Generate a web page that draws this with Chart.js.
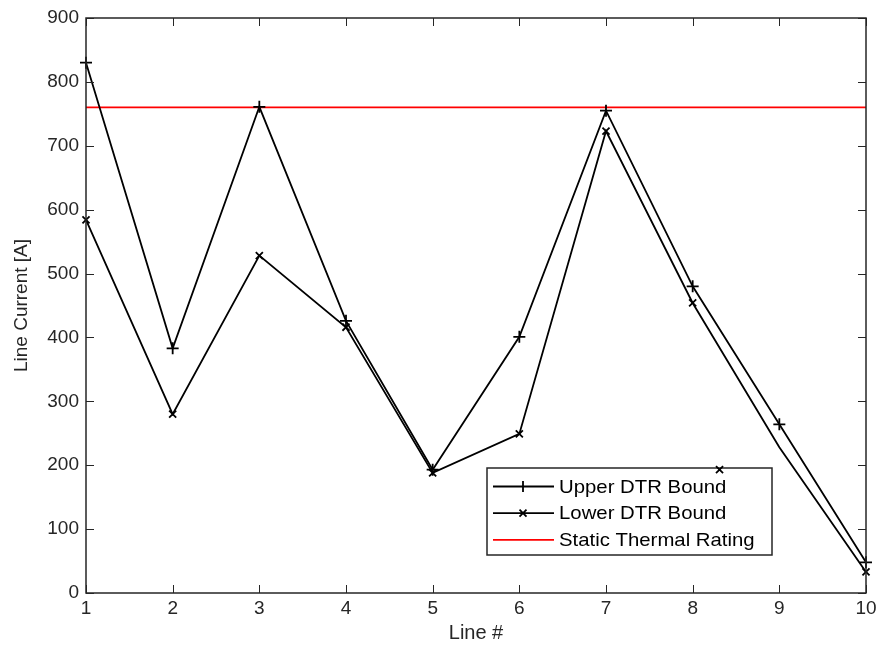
<!DOCTYPE html>
<html>
<head>
<meta charset="utf-8">
<title>Line Current</title>
<script src="https://cdn.jsdelivr.net/npm/chart.js@4.4.1/dist/chart.umd.min.js"></script>
<style>
  html, body { margin: 0; padding: 0; background: #fff; }
  #wrap { width: 878px; height: 658px; }
</style>
</head>
<body>
<div id="wrap"><canvas id="chart" width="878" height="658"></canvas></div>
<script>
// --- Data ---
const lineNumbers = [1, 2, 3, 4, 5, 6, 7, 8, 9, 10];
const upperBound = [830, 383, 761, 426, 193, 401, 755, 480, 264, 48];
const lowerBound = [584, 280, 528, 416, 188, 249, 723, 454, 228, 33];
const staticRating = 760;
// lone lower-bound marker sitting on the legend frame
const strayMarker = { x: 8.31, y: 193 };
const xTicks = [1, 2, 3, 4, 5, 6, 7, 8, 9, 10];
const yTicks = [0, 100, 200, 300, 400, 500, 600, 700, 800, 900];
const legendLabels = ['Upper DTR Bound', 'Lower DTR Bound', 'Static Thermal Rating'];

const FONT = 'Arial, "Liberation Sans", Helvetica, sans-serif';
const AXIS_COLOR = '#262626';
const TICK_LEN = 8;
const LINE_W = 1.8;

const toPoints = (ys) => lineNumbers.map((x, i) => ({ x, y: ys[i] }));

// --- Plugins ---

// box round the axes with inward ticks on all four sides
const axesBox = {
    id: 'axesBox',
    afterDatasetsDraw(chart) {
        const { ctx, chartArea: a, scales: { x, y } } = chart;
        ctx.save();
        ctx.strokeStyle = AXIS_COLOR;
        ctx.lineWidth = 1;
        ctx.beginPath();
        xTicks.forEach(v => {
            const px = Math.round(x.getPixelForValue(v)) + 0.5;
            ctx.moveTo(px, a.bottom); ctx.lineTo(px, a.bottom - TICK_LEN);
            ctx.moveTo(px, a.top); ctx.lineTo(px, a.top + TICK_LEN);
        });
        yTicks.forEach(v => {
            const py = Math.round(y.getPixelForValue(v)) + 0.5;
            ctx.moveTo(a.left, py); ctx.lineTo(a.left + TICK_LEN, py);
            ctx.moveTo(a.right, py); ctx.lineTo(a.right - TICK_LEN, py);
        });
        ctx.stroke();
        ctx.lineWidth = 1.5;
        ctx.strokeRect(a.left, a.top, a.right - a.left, a.bottom - a.top);
        ctx.restore();
    }
};

// legend box, drawn before the datasets so marks can sit on top of it
const boxLegend = {
    id: 'boxLegend',
    beforeDatasetsDraw(chart) {
        const { ctx } = chart;
        const left = 487, top = 468, w = 285, h = 87;
        const styles = [
            { color: '#000', marker: 'plus' },
            { color: '#000', marker: 'x' },
            { color: '#ff0000', marker: null }
        ];
        ctx.save();
        ctx.fillStyle = '#fff';
        ctx.fillRect(left, top, w, h);
        ctx.strokeStyle = AXIS_COLOR;
        ctx.lineWidth = 1.5;
        ctx.strokeRect(left, top, w, h);
        legendLabels.forEach((label, i) => {
            const cy = top + 18.5 + i * 26.7;
            const st = styles[i];
            ctx.strokeStyle = st.color;
            ctx.lineWidth = LINE_W;
            ctx.beginPath();
            ctx.moveTo(493, cy); ctx.lineTo(554, cy);
            const mx = 523;
            if (st.marker === 'plus') {
                ctx.moveTo(mx, cy - 5.5); ctx.lineTo(mx, cy + 5.5);
            } else if (st.marker === 'x') {
                ctx.moveTo(mx - 3.5, cy - 3.5); ctx.lineTo(mx + 3.5, cy + 3.5);
                ctx.moveTo(mx - 3.5, cy + 3.5); ctx.lineTo(mx + 3.5, cy - 3.5);
            }
            ctx.stroke();
            // text is a little wider than tall
            ctx.save();
            ctx.translate(559, cy + 1);
            ctx.scale(1.1, 1);
            ctx.font = '18.5px ' + FONT;
            ctx.textBaseline = 'middle';
            ctx.fillStyle = '#000';
            ctx.fillText(label, 0, 0);
            ctx.restore();
        });
        ctx.restore();
    }
};

// --- Chart ---
const ctx = document.getElementById('chart').getContext('2d');
new Chart(ctx, {
    type: 'line',
    data: {
        datasets: [
            {
                label: legendLabels[0],
                data: toPoints(upperBound),
                borderColor: '#000',
                borderWidth: LINE_W,
                pointStyle: 'cross',
                pointRadius: 6,
                pointBorderColor: '#000',
                pointBorderWidth: LINE_W,
                tension: 0,
                clip: false
            },
            {
                label: legendLabels[1],
                data: toPoints(lowerBound),
                borderColor: '#000',
                borderWidth: LINE_W,
                pointStyle: 'crossRot',
                pointRadius: c => (c.dataIndex === 8 ? 0 : 5),
                pointBorderColor: '#000',
                pointBorderWidth: LINE_W,
                tension: 0,
                clip: false
            },
            {
                label: legendLabels[2],
                data: [{ x: 1, y: staticRating }, { x: 10, y: staticRating }],
                borderColor: '#ff0000',
                borderWidth: LINE_W,
                pointRadius: 0,
                tension: 0
            },
            {
                label: 'stray',
                data: [strayMarker],
                showLine: false,
                pointStyle: 'crossRot',
                pointRadius: 5,
                pointBorderColor: '#000',
                pointBorderWidth: LINE_W,
                clip: false
            }
        ]
    },
    options: {
        responsive: false,
        animation: false,
        layout: { padding: { left: 0, top: 18, right: 12, bottom: 0 } },
        plugins: {
            legend: { display: false },
            tooltip: { enabled: false }
        },
        scales: {
            x: {
                type: 'linear',
                min: 1,
                max: 10,
                afterFit: s => { s.height = 65; s.paddingLeft = 0; s.paddingRight = 0; },
                afterBuildTicks: s => { s.ticks = xTicks.map(v => ({ value: v })); },
                grid: { display: false, drawTicks: false },
                border: { display: false },
                ticks: { color: AXIS_COLOR, font: { family: FONT, size: 19 }, padding: 4, maxRotation: 0 },
                title: { display: true, text: 'Line #', color: AXIS_COLOR, font: { family: FONT, size: 20 }, padding: { top: 0, bottom: 13 } }
            },
            y: {
                min: 0,
                max: 900,
                afterFit: s => { s.width = 86; s.paddingTop = 0; s.paddingBottom = 0; },
                afterBuildTicks: s => { s.ticks = yTicks.map(v => ({ value: v })); },
                grid: { display: false, drawTicks: false },
                border: { display: false },
                ticks: { color: AXIS_COLOR, font: { family: FONT, size: 19 }, padding: 7 },
                title: { display: true, text: 'Line Current [A]', color: AXIS_COLOR, font: { family: FONT, size: 19 }, padding: { top: 10, bottom: 0 } }
            }
        }
    },
    plugins: [boxLegend, axesBox]
});
</script>
</body>
</html>
